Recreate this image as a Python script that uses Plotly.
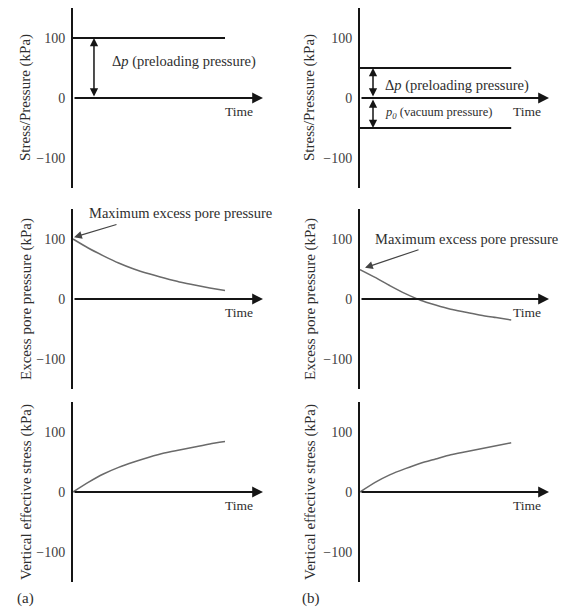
import plotly.graph_objects as go

# ---------------- data ----------------
time = [0, 1, 2, 3, 4, 5, 6, 7, 8, 9, 10]
time_max = 12.5
y_ticks = [-100, 0, 100]
y_ticktext = ["\u2212100", "0", "100"]

preload_a = 100          # (a) preloading pressure
preload_b = 50           # (b) preloading pressure
vacuum_b = -50           # (b) vacuum pressure

u_a = [100, 85, 72, 60, 50, 42, 35, 28.5, 23.5, 18.5, 14]
sig_a = [0, 16, 30, 41, 50, 58, 65, 70, 75, 80, 84]
u_b = [49, 36, 22, 9, -2, -10, -17, -22, -27, -31, -35]
sig_b = [0, 16, 29, 39, 48, 55, 62, 67, 72, 77, 82]

y_titles = ["Stress/Pressure (kPa)", "Excess pore pressure (kPa)",
            "Vertical effective stress (kPa)"]

# ---------------- style ----------------
FONT = "Liberation Serif"
TXT = "#2e2e2e"
TICK = "#404040"
AXC = "#151515"
CURVE = "#6a6a6a"
W, H = 564, 610

x_dom = {"L": [73 / W, 263 / W], "R": [360 / W, 549 / W]}
y_dom = [[1 - 188 / H, 1 - 8 / H], [1 - 389 / H, 1 - 209 / H], [1 - 582 / H, 1 - 402 / H]]

fig = go.Figure()
layout = dict(width=W, height=H, autosize=False,
              margin=dict(l=0, r=0, t=0, b=0),
              paper_bgcolor="white", plot_bgcolor="white",
              showlegend=False, font=dict(family=FONT, color=TXT))
annotations = []

idx = 0
axes_ids = {}
for r in range(3):
    for c in ["L", "R"]:
        idx += 1
        sfx = "" if idx == 1 else str(idx)
        axes_ids[(r, c)] = ("x" + sfx, "y" + sfx)
        layout["xaxis" + sfx] = dict(domain=x_dom[c], range=[0, time_max], anchor="y" + sfx,
                                     showgrid=False, zeroline=False, showline=False,
                                     showticklabels=False, ticks="", fixedrange=True)
        layout["yaxis" + sfx] = dict(domain=y_dom[r], range=[-150, 150], anchor="x" + sfx,
                                     showgrid=False, zeroline=False, showline=True,
                                     linewidth=2, linecolor=AXC, ticks="",
                                     tickvals=y_ticks, ticktext=y_ticktext,
                                     tickfont=dict(family=FONT, size=14, color=TICK),
                                     ticklabelstandoff=3, fixedrange=True)
        # time axis with arrow
        annotations.append(dict(x=time_max, y=0, ax=0, ay=0, xref="x" + sfx, yref="y" + sfx,
                                axref="x" + sfx, ayref="y" + sfx, text="", showarrow=True,
                                arrowhead=2, arrowsize=1.2, arrowwidth=1.8, arrowcolor=AXC))
        annotations.append(dict(x=9.85 if c == "L" else 10.0, y=-22, xref="x" + sfx, yref="y" + sfx,
                                text="Time", showarrow=False, xanchor="left", yanchor="middle",
                                font=dict(family=FONT, size=13.5, color=TXT)))
        # y title
        annotations.append(dict(x=(26 if c == "L" else 310) / W, y=0.5, xref="paper",
                                yref="y" + sfx + " domain", text=y_titles[r], textangle=-90,
                                showarrow=False, xanchor="center", yanchor="middle",
                                font=dict(family=FONT, size=15, color=TXT)))


def add_line(key, xs, ys, color, width):
    xa, ya = axes_ids[key]
    fig.add_trace(go.Scatter(x=xs, y=ys, mode="lines", xaxis=xa, yaxis=ya,
                             line=dict(color=color, width=width, shape="spline", smoothing=0.6),
                             hoverinfo="skip"))


# Row 1: loading
add_line((0, "L"), [time[0], time[-1]], [preload_a, preload_a], AXC, 2)
add_line((0, "R"), [time[0], time[-1]], [preload_b, preload_b], AXC, 1.8)
add_line((0, "R"), [time[0], time[-1]], [vacuum_b, vacuum_b], AXC, 1.8)

# Row 2: excess pore pressure
add_line((1, "L"), time, u_a, CURVE, 1.5)
add_line((1, "R"), time, u_b, CURVE, 1.5)

# Row 3: effective stress
add_line((2, "L"), time, sig_a, CURVE, 1.5)
add_line((2, "R"), time, sig_b, CURVE, 1.5)


def darrow(key, x, y0, y1):
    xa, ya = axes_ids[key]
    annotations.append(dict(x=x, y=y1, ax=x, ay=y0, xref=xa, yref=ya, axref=xa, ayref=ya,
                            text="", showarrow=True, arrowhead=2, startarrowhead=2,
                            arrowside="end+start", arrowsize=1.1, startarrowsize=1.1,
                            arrowwidth=1.5, arrowcolor=AXC))


darrow((0, "L"), 1.38, 0, preload_a)
darrow((0, "R"), 0.86, 0, preload_b)
darrow((0, "R"), 0.86, 0, vacuum_b)

xa, ya = axes_ids[(0, "L")]
annotations.append(dict(x=2.45, y=60, xref=xa, yref=ya, showarrow=False, xanchor="left",
                        text="\u0394<i>p</i> (preloading pressure)",
                        font=dict(family=FONT, size=14.5, color=TXT)))
xa, ya = axes_ids[(0, "R")]
annotations.append(dict(x=1.55, y=20, xref=xa, yref=ya, showarrow=False, xanchor="left",
                        text="\u0394<i>p</i> (preloading pressure)",
                        font=dict(family=FONT, size=14.5, color=TXT)))
annotations.append(dict(x=1.55, y=-25, xref=xa, yref=ya, showarrow=False, xanchor="left",
                        text="<i>p</i><sub><i>0</i></sub> (vacuum pressure)",
                        font=dict(family=FONT, size=12.5, color=TXT)))

# Maximum excess pore pressure
for key, tx, ty, ax_, ay_, hx, hy in [((1, "L"), 0.9, 143, 2.96, 125, 0.07, 103),
                                       ((1, "R"), 0.88, 100, 3.97, 83, 0.33, 52)]:
    xa, ya = axes_ids[key]
    annotations.append(dict(x=tx, y=ty, xref=xa, yref=ya, showarrow=False, xanchor="left",
                            text="Maximum excess pore pressure",
                            font=dict(family=FONT, size=14.5, color=TXT)))
    annotations.append(dict(x=hx, y=hy, ax=ax_, ay=ay_, xref=xa, yref=ya, axref=xa, ayref=ya,
                            text="", showarrow=True, arrowhead=2, arrowsize=1.3,
                            arrowwidth=1.2, arrowcolor="#444444"))

annotations.append(dict(x=15 / W, y=1 - 598 / H, xref="paper", yref="paper", text="(a)",
                        showarrow=False, xanchor="left", yanchor="middle",
                        font=dict(family=FONT, size=15, color=TXT)))
annotations.append(dict(x=300 / W, y=1 - 598 / H, xref="paper", yref="paper", text="(b)",
                        showarrow=False, xanchor="left", yanchor="middle",
                        font=dict(family=FONT, size=15, color=TXT)))

layout["annotations"] = annotations
fig.update_layout(**layout)
fig.write_html("out.html")
